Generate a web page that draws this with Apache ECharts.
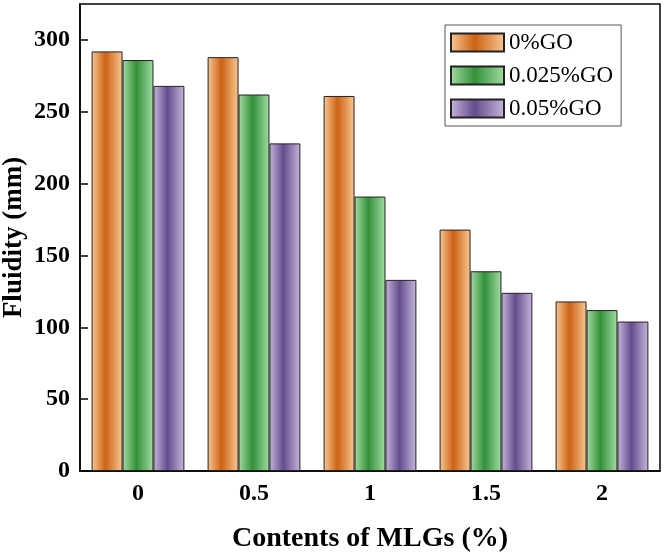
<!DOCTYPE html>
<html><head><meta charset="utf-8">
<script src="https://cdn.jsdelivr.net/npm/echarts@6/dist/echarts.min.js"></script>
<style>html,body{margin:0;padding:0;background:#fff}#c{width:664px;height:554px}</style>
</head><body><div id="c"></div>
<script>
const categories = ['0', '0.5', '1', '1.5', '2'];
const seriesNames = ['0%GO', '0.025%GO', '0.05%GO'];
const go0 = [292, 288, 261, 168, 118];
const go025 = [286, 262, 191, 139, 112];
const go05 = [268, 228, 133, 124, 104];
const yTicks = [0, 50, 100, 150, 200, 250, 300];

const F = '"Liberation Serif", "Times New Roman", serif';
function grad(edge, mid) {
  return new echarts.graphic.LinearGradient(0, 0, 1, 0, [
    {offset: 0, color: edge}, {offset: 0.45, color: mid}, {offset: 1, color: edge}
  ]);
}
const colors = [grad('#F9C894', '#CC6214'), grad('#A2DCA2', '#33913A'), grad('#C6B6DC', '#654C8C')];
const dataSets = [go0, go025, go05];

const chart = echarts.init(document.getElementById('c'), null, {renderer: 'canvas'});
chart.setOption({
  animation: false,
  grid: {left: 80, right: 4, top: 4, bottom: 83, outerBoundsMode: 'none', containLabel: false,
    show: true, borderColor: '#000', borderWidth: 1.5, backgroundColor: 'transparent'},
  legend: {
    orient: 'vertical', left: 445, top: 25,
    icon: 'rect',
    itemWidth: 53, itemHeight: 18, itemGap: 10,
    padding: [6, 8, 6, 5],
    borderColor: '#555', borderWidth: 1,
    textStyle: {fontFamily: F, fontSize: 23, color: '#000'},
    data: seriesNames
  },
  xAxis: {
    type: 'category', data: categories,
    axisLine: {lineStyle: {color: '#000', width: 1.5}},
    axisTick: {inside: true, alignWithLabel: true, length: 6, lineStyle: {color: '#000', width: 1.5}},
    axisLabel: {fontFamily: F, fontWeight: 'bold', fontSize: 24, color: '#000', margin: 11},
    name: 'Contents of MLGs (%)', nameLocation: 'middle', nameGap: 54,
    nameTextStyle: {fontFamily: F, fontWeight: 'bold', fontSize: 28, color: '#000', verticalAlign: 'top'}
  },
  yAxis: {
    type: 'value', min: 0, max: 325, interval: 50,
    splitLine: {show: false},
    axisLine: {show: true, lineStyle: {color: '#000', width: 1.5}},
    axisTick: {show: true, inside: true, length: 8, lineStyle: {color: '#000', width: 1.5}},
    axisLabel: {fontFamily: F, fontWeight: 'bold', fontSize: 24, color: '#000', margin: 10, showMaxLabel: false,
      formatter: v => yTicks.includes(v) ? String(v) : ''},
    name: 'Fluidity (mm)', nameLocation: 'middle', nameGap: 52, nameMoveOverlap: false,
    nameTextStyle: {fontFamily: F, fontWeight: 'bold', fontSize: 27, color: '#000'}
  },
  series: seriesNames.map((n, i) => ({
    name: n, type: 'bar', data: dataSets[i],
    barGap: '0%', barCategoryGap: '20%',
    itemStyle: {color: colors[i], borderColor: '#222', borderWidth: 1}
  }))
});
</script></body></html>
